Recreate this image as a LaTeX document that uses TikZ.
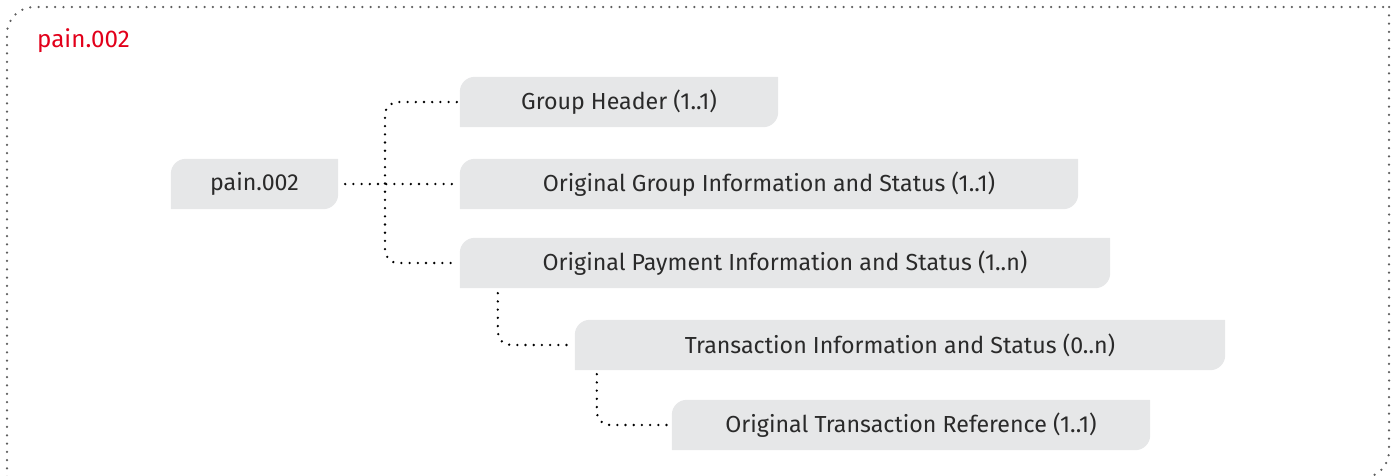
\documentclass[tikz,border=0pt]{standalone}
\usepackage{fontspec}
\setmainfont{Fira Sans}
\usetikzlibrary{backgrounds,calc}

\definecolor{boxgray}{HTML}{E6E7E8}
\definecolor{inkgray}{HTML}{2A2A2A}
\definecolor{titlered}{HTML}{E2001A}
\definecolor{framegray}{HTML}{5E5E5E}

\tikzset{
  msgbox/.style={inner sep=0pt, text=inkgray, minimum height=50pt,
    font=\fontsize{23.2}{27}\selectfont},
  conn/.style={draw=black, line width=2.6pt, line cap=round,
    dash pattern=on 0pt off 8.2pt},
  framedots/.style={draw=framegray, line width=2.5pt, line cap=round,
    dash pattern=on 0pt off 8.3pt},
}

% fill with rounded top-left and bottom-right corners only
\newcommand\leaffill[2]{%
  \fill[boxgray] ([xshift=#2]#1.north west) -- (#1.north east)
    -- ([yshift=#2]#1.south east) arc[start angle=0, end angle=-90, radius=#2]
    -- (#1.south west)
    -- ([yshift=-#2]#1.north west) arc[start angle=180, end angle=90, radius=#2]
    -- cycle;}

\begin{document}
\begin{tikzpicture}[x=1pt, y=-1pt]
  \useasboundingbox (0,0) rectangle (1397,475);
  \clip (0,0) rectangle (1397,475);

  % outer dotted frame
  \draw[framedots] (1389,7) -- (1389,451)
    arc[start angle=0, end angle=-90, radius=27pt]
    -- (7,478) -- (7,34)
    arc[start angle=180, end angle=90, radius=27pt] -- cycle;

  \node[anchor=base west, text=titlered, inner sep=0pt,
        font=\fontsize{24.2}{28}\selectfont] (title) at (37,47) {pain.002};

  % message elements
  \node[msgbox, minimum width=167pt] (root) at (254.5,184) {pain.002};
  \node[msgbox, minimum width=318pt] (gh)   at (619,102) {Group Header (1..1)};
  \node[msgbox, minimum width=618pt] (ogi)  at (769,184) {Original Group Information and Status (1..1)};
  \node[msgbox, minimum width=650pt] (opi)  at (785,263) {Original Payment Information and Status (1..n)};
  \node[msgbox, minimum width=650pt] (ti)   at (900,345) {Transaction Information and Status (0..n)};
  \node[msgbox, minimum width=478pt] (otr)  at (911,425) {Original Transaction Reference (1..1)};

  \begin{pgfonlayer}{background}
    \foreach \n in {root,gh,ogi,opi,ti,otr} {\leaffill{\n}{15pt}}
  \end{pgfonlayer}

  % tree connectors
  \coordinate (spine) at (385,184);
  \draw[conn] ([xshift=7pt]root.east) -- ([xshift=-3pt]ogi.west);
  \draw[conn, rounded corners=13pt] ([xshift=-3pt]gh.west) -| (spine) |- ([xshift=-3pt]opi.west);
  \draw[conn, rounded corners=13pt] ([xshift=38pt, yshift=-5pt]opi.south west) |- ([xshift=-6pt]ti.west);
  \draw[conn, rounded corners=13pt] ([xshift=22pt, yshift=-4pt]ti.south west) |- ([xshift=-5pt]otr.west);
\end{tikzpicture}
\end{document}
